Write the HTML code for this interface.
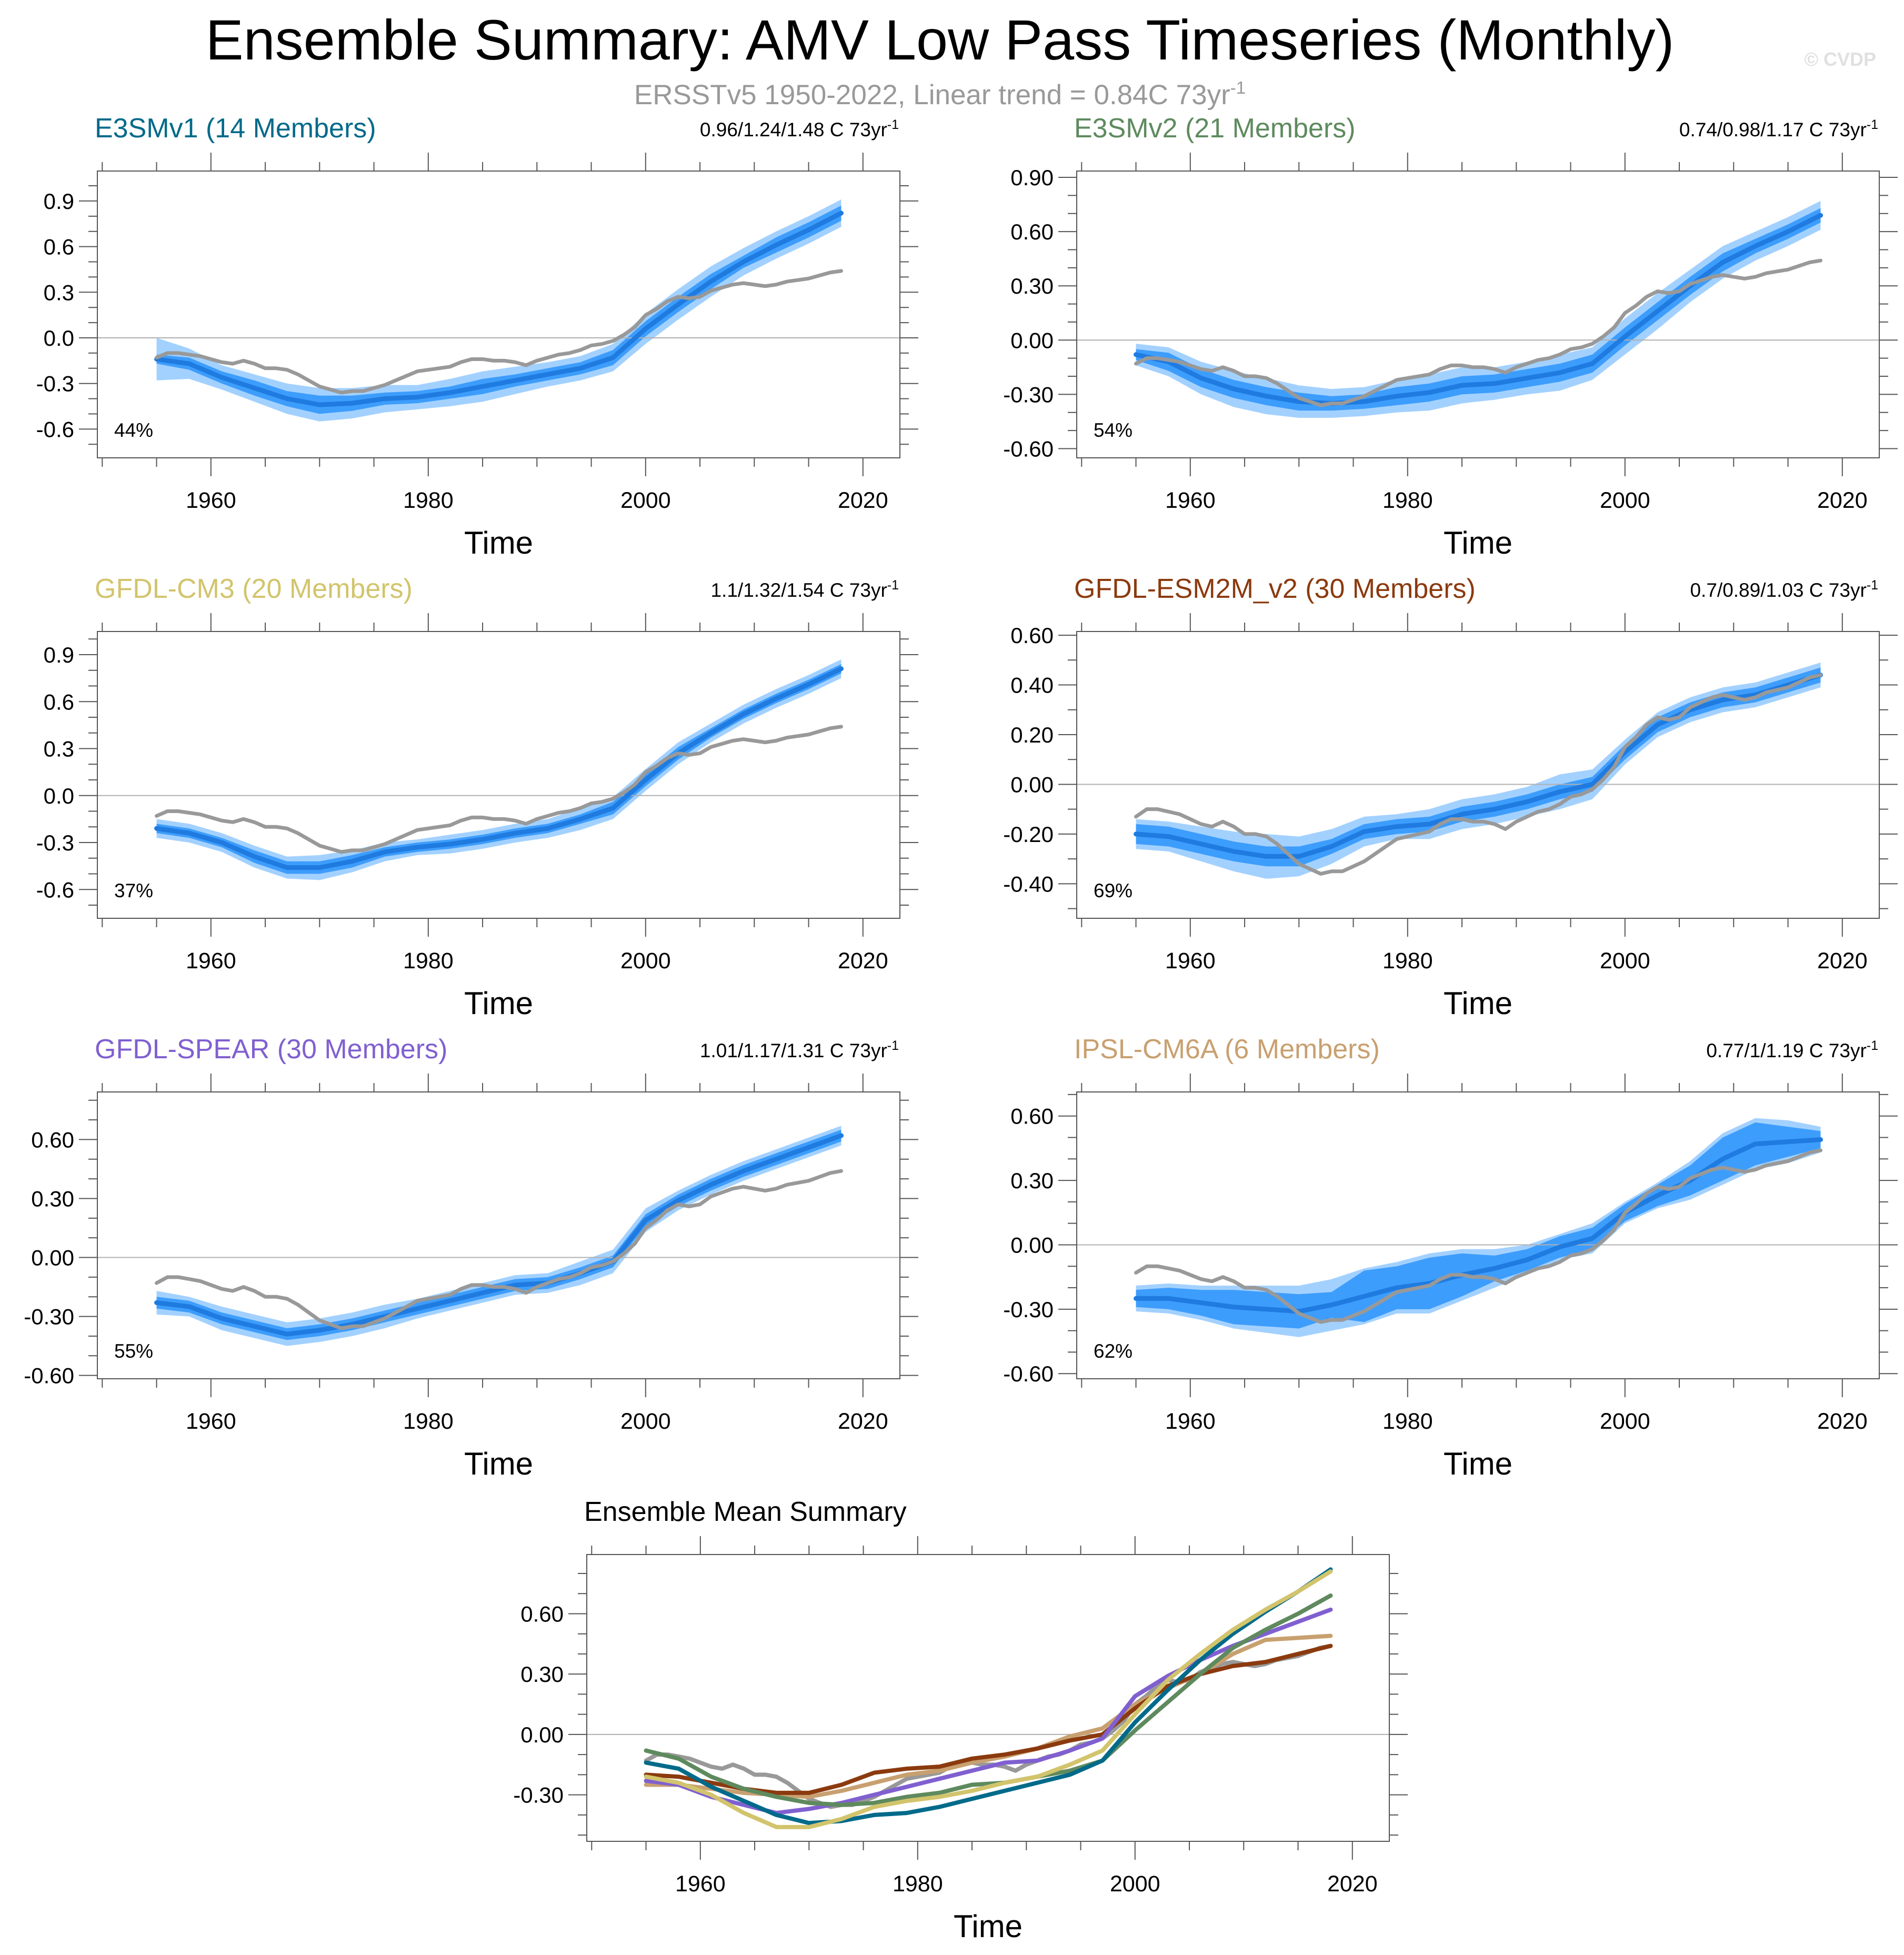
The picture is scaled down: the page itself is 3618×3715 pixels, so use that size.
<!DOCTYPE html>
<html><head><meta charset="utf-8"><style>
html,body{margin:0;padding:0;background:#fff;}
svg{display:block;font-family:"Liberation Sans",sans-serif;}
</style></head><body>
<svg id="c" width="3618" height="3715" viewBox="0 0 3618 3715" xmlns="http://www.w3.org/2000/svg">
<text x="1786" y="113" font-size="108" text-anchor="middle" fill="#000">Ensemble Summary: AMV Low Pass Timeseries (Monthly)</text>
<text x="1786" y="198" font-size="53" text-anchor="middle" fill="#999">ERSSTv5 1950-2022, Linear trend = 0.84C 73yr<tspan dy="-20" font-size="33">-1</tspan></text>
<text x="3565" y="125" font-size="36" font-weight="bold" text-anchor="end" fill="#e0e0e0">© CVDP</text>
</svg>
<script>
const years = [1955,1958,1961,1964,1967,1970,1973,1976,1979,1982,1985,1988,1991,1994,1997,2000,2003,2006,2009,2012,2015,2018];
const obsYears = [];
for (let y = 1955; y <= 2018; y++) obsYears.push(y);
const obs = [-0.13,-0.10,-0.10,-0.11,-0.12,-0.14,-0.16,-0.17,-0.15,-0.17,-0.20,-0.20,-0.21,-0.24,-0.28,-0.32,-0.34,-0.36,-0.35,-0.35,-0.33,-0.31,-0.28,-0.25,-0.22,-0.21,-0.20,-0.19,-0.16,-0.14,-0.14,-0.15,-0.15,-0.16,-0.18,-0.15,-0.13,-0.11,-0.10,-0.08,-0.05,-0.04,-0.02,0.02,0.07,0.15,0.19,0.24,0.27,0.26,0.27,0.31,0.33,0.35,0.36,0.35,0.34,0.35,0.37,0.38,0.39,0.41,0.43,0.44];

const e3v1Mean = [-0.14,-0.17,-0.26,-0.33,-0.40,-0.44,-0.43,-0.40,-0.39,-0.36,-0.32,-0.28,-0.24,-0.20,-0.13,0.06,0.22,0.37,0.50,0.61,0.71,0.82];
const e3v2Mean = [-0.08,-0.12,-0.21,-0.27,-0.31,-0.34,-0.35,-0.34,-0.31,-0.29,-0.25,-0.24,-0.21,-0.18,-0.13,0.02,0.16,0.30,0.43,0.52,0.60,0.69];
const cm3Mean = [-0.21,-0.24,-0.30,-0.39,-0.46,-0.46,-0.42,-0.36,-0.33,-0.31,-0.28,-0.24,-0.21,-0.15,-0.08,0.10,0.27,0.40,0.52,0.62,0.71,0.81];
const esm2mMean = [-0.20,-0.21,-0.24,-0.27,-0.29,-0.29,-0.25,-0.19,-0.17,-0.16,-0.12,-0.10,-0.07,-0.03,0.00,0.13,0.24,0.30,0.34,0.36,0.40,0.44];
const spearMean = [-0.23,-0.25,-0.31,-0.35,-0.39,-0.37,-0.34,-0.30,-0.26,-0.22,-0.18,-0.14,-0.13,-0.08,-0.02,0.19,0.29,0.37,0.44,0.50,0.56,0.62];
const ipslMean = [-0.25,-0.25,-0.27,-0.29,-0.30,-0.31,-0.28,-0.24,-0.20,-0.18,-0.14,-0.11,-0.07,-0.01,0.03,0.15,0.23,0.30,0.40,0.47,0.48,0.49];

const e3v1Inner = [0.03,0.04,0.04,0.05,0.05,0.06,0.05,0.04,0.04,0.04,0.05,0.04,0.04,0.04,0.05,0.05,0.05,0.05,0.04,0.05,0.05,0.05];
const e3v1Outer = [0.14,0.10,0.08,0.09,0.10,0.11,0.10,0.09,0.08,0.09,0.10,0.09,0.08,0.08,0.09,0.10,0.10,0.10,0.09,0.09,0.09,0.09];
const e3v2Inner = [0.03,0.05,0.05,0.05,0.05,0.05,0.04,0.04,0.05,0.05,0.05,0.05,0.05,0.05,0.05,0.05,0.05,0.05,0.05,0.04,0.04,0.04];
const e3v2Outer = [0.06,0.08,0.09,0.10,0.10,0.09,0.08,0.08,0.09,0.10,0.10,0.09,0.09,0.10,0.09,0.10,0.10,0.09,0.09,0.08,0.08,0.08];
const cm3Inner = [0.03,0.03,0.03,0.04,0.04,0.04,0.04,0.03,0.03,0.03,0.03,0.03,0.03,0.03,0.04,0.04,0.04,0.03,0.03,0.03,0.03,0.03];
const cm3Outer = [0.06,0.06,0.06,0.07,0.07,0.08,0.07,0.06,0.05,0.06,0.06,0.06,0.06,0.07,0.07,0.07,0.07,0.06,0.06,0.06,0.06,0.06];
const esm2mInner = [0.04,0.04,0.04,0.04,0.04,0.04,0.03,0.03,0.03,0.03,0.03,0.03,0.03,0.03,0.03,0.03,0.03,0.03,0.03,0.03,0.03,0.03];
const esm2mOuter = [0.06,0.06,0.07,0.08,0.09,0.08,0.07,0.06,0.05,0.06,0.06,0.06,0.06,0.07,0.06,0.05,0.05,0.05,0.05,0.05,0.05,0.05];
const spearInner = [0.03,0.03,0.03,0.03,0.03,0.03,0.03,0.03,0.03,0.03,0.03,0.03,0.03,0.03,0.03,0.03,0.03,0.03,0.03,0.03,0.03,0.03];
const spearOuter = [0.06,0.05,0.06,0.06,0.06,0.06,0.06,0.06,0.05,0.05,0.05,0.05,0.05,0.06,0.06,0.06,0.05,0.05,0.05,0.05,0.05,0.05];
const ipslInner = [0.04,0.05,0.06,0.08,0.08,0.08,0.06,0.12,0.10,0.12,0.10,0.06,0.05,0.05,0.05,0.04,0.05,0.07,0.10,0.10,0.07,0.04];
const ipslOuter = [0.06,0.07,0.08,0.10,0.11,0.12,0.12,0.13,0.12,0.14,0.12,0.09,0.07,0.06,0.07,0.05,0.06,0.09,0.12,0.12,0.10,0.06];

const NS = "http://www.w3.org/2000/svg";
const svg = document.getElementById('c');
const W = 1525, H = 545, XMIN = 1949.55, XMAX = 2023.4;
function mk(tag, attrs, parent) {
  const e = document.createElementNS(NS, tag);
  for (const k in attrs) e.setAttribute(k, attrs[k]);
  (parent || svg).appendChild(e);
  return e;
}
function panel(cfg) {
  const g = mk('g', {});
  
  
  const x0 = cfg.x, y0 = cfg.y;
  const sx = v => x0 + (v - XMIN) / (XMAX - XMIN) * W;
  const sy = v => y0 + (cfg.ymax - v) / (cfg.ymax - cfg.ymin) * H;
  if (cfg.mean && cfg.inner) {
    const band = (w, fill, nm) => {
      let d = '';
      years.forEach((yr, i) => { d += (i ? 'L' : 'M') + sx(yr) + ',' + sy(cfg.mean[i] + w[i]); });
      for (let i = years.length - 1; i >= 0; i--) d += 'L' + sx(years[i]) + ',' + sy(cfg.mean[i] - w[i]);
      const p = mk('path', {d: d + 'Z', fill: fill}, g);
      
      
    };
    band(cfg.outer, '#a3d1ff', 'outer-spread-band');
    band(cfg.inner, '#3d9dfc', 'inner-spread-band');
  }
  const zl = mk('line', {x1: x0, x2: x0 + W, y1: sy(0), y2: sy(0), stroke: '#b0b0b0', 'stroke-width': 2}, g);
  
  
  const line = (xs, vs, color, sw, nm) => {
    const p = mk('polyline', {points: xs.map((yr, i) => sx(yr) + ',' + sy(vs[i])).join(' '), fill: 'none', stroke: color, 'stroke-width': sw, 'stroke-linejoin': 'round', 'stroke-linecap': 'round'}, g);
    
    
  };
  if (cfg.summary) {
    line(obsYears, obs, '#999999', 8, 'observed-line');
    cfg.summary.forEach(s => line(years, s.v, s.c, 8, s.n));
  } else {
    line(years, cfg.mean, '#1f7be0', 9, 'ensemble-mean-line');
    line(obsYears, obs, '#999999', 7, 'observed-line');
  }
  const fr = mk('rect', {x: x0, y: y0, width: W, height: H, fill: 'none', stroke: '#555', 'stroke-width': 2}, g);
  
  
  for (let yr = 1950; yr <= 2020; yr += 5) {
    const major = yr % 20 === 0, L = major ? 35 : 17, X = sx(yr);
    mk('line', {x1: X, x2: X, y1: y0, y2: y0 - L, stroke: '#555', 'stroke-width': 2}, g);
    mk('line', {x1: X, x2: X, y1: y0 + H, y2: y0 + H + L, stroke: '#555', 'stroke-width': 2}, g);
    if (major && yr > 1950) {
      const t = mk('text', {x: X, y: y0 + H + 95, 'font-size': 43, 'text-anchor': 'middle'}, g);
      t.textContent = yr;
      
      
    }
  }
  const lo = Math.ceil(cfg.ymin * 10 - 1e-6), hi = Math.floor(cfg.ymax * 10 + 1e-6);
  for (let k = lo; k <= hi; k++) {
    const v = k / 10, major = Math.abs(k % cfg.mstep) === 0, L = major ? 35 : 17, Y = sy(v);
    mk('line', {x1: x0, x2: x0 - L, y1: Y, y2: Y, stroke: '#555', 'stroke-width': 2}, g);
    mk('line', {x1: x0 + W, x2: x0 + W + L, y1: Y, y2: Y, stroke: '#555', 'stroke-width': 2}, g);
    if (major) {
      const t = mk('text', {x: x0 - 44, y: Y + 15, 'font-size': 42, 'text-anchor': 'end'}, g);
      t.textContent = v.toFixed(cfg.dec);
      
      
    }
  }
  const tl = mk('text', {x: x0 + W / 2, y: y0 + H + 182, 'font-size': 60, 'text-anchor': 'middle'}, g);
  tl.textContent = 'Time';
  
  
  const tt = mk('text', {x: x0 - 5, y: y0 - 64, 'font-size': 52, fill: cfg.color}, g);
  tt.textContent = cfg.title;
  
  
  if (cfg.trend) {
    const tr = mk('text', {x: x0 + W - 2, y: y0 - 66, 'font-size': 37, 'text-anchor': 'end'}, g);
    tr.innerHTML = cfg.trend + ' C 73yr<tspan dy="-14" font-size="25">-1</tspan>';
    
    
    const pc = mk('text', {x: x0 + 32, y: y0 + H - 40, 'font-size': 37}, g);
    pc.textContent = cfg.pct;
    
    
  }
}
const LX = 185, RX = 2046, R1 = 325, R2 = 1200, R3 = 2075;
panel({name: 'panel-e3smv1', x: LX, y: R1, ymin: -0.789, ymax: 1.097, mstep: 3, dec: 1, mean: e3v1Mean, inner: e3v1Inner, outer: e3v1Outer, title: 'E3SMv1 (14 Members)', color: '#006a8a', trend: '0.96/1.24/1.48', pct: '44%'});
panel({name: 'panel-e3smv2', x: RX, y: R1, ymin: -0.651, ymax: 0.935, mstep: 3, dec: 2, mean: e3v2Mean, inner: e3v2Inner, outer: e3v2Outer, title: 'E3SMv2 (21 Members)', color: '#5e8a5e', trend: '0.74/0.98/1.17', pct: '54%'});
panel({name: 'panel-gfdl-cm3', x: LX, y: R2, ymin: -0.784, ymax: 1.048, mstep: 3, dec: 1, mean: cm3Mean, inner: cm3Inner, outer: cm3Outer, title: 'GFDL-CM3 (20 Members)', color: '#d2c46c', trend: '1.1/1.32/1.54', pct: '37%'});
panel({name: 'panel-gfdl-esm2m', x: RX, y: R2, ymin: -0.539, ymax: 0.615, mstep: 2, dec: 2, mean: esm2mMean, inner: esm2mInner, outer: esm2mOuter, title: 'GFDL-ESM2M_v2 (30 Members)', color: '#8b3a0e', trend: '0.7/0.89/1.03', pct: '69%'});
panel({name: 'panel-gfdl-spear', x: LX, y: R3, ymin: -0.617, ymax: 0.842, mstep: 3, dec: 2, mean: spearMean, inner: spearInner, outer: spearOuter, title: 'GFDL-SPEAR (30 Members)', color: '#8060d0', trend: '1.01/1.17/1.31', pct: '55%'});
panel({name: 'panel-ipsl-cm6a', x: RX, y: R3, ymin: -0.624, ymax: 0.712, mstep: 3, dec: 2, mean: ipslMean, inner: ipslInner, outer: ipslOuter, title: 'IPSL-CM6A (6 Members)', color: '#c8a070', trend: '0.77/1/1.19', pct: '62%'});
panel({name: 'panel-ensemble-mean-summary', x: 1115, y: 2954, ymin: -0.531, ymax: 0.894, mstep: 3, dec: 2, title: 'Ensemble Mean Summary', color: '#000',
  summary: [
    {v: ipslMean, c: '#c8a070', n: 'ipsl-mean-line'},
    {v: esm2mMean, c: '#8b3a0e', n: 'esm2m-mean-line'},
    {v: spearMean, c: '#8060d0', n: 'spear-mean-line'},
    {v: e3v2Mean, c: '#5e8a5e', n: 'e3smv2-mean-line'},
    {v: e3v1Mean, c: '#006a8a', n: 'e3smv1-mean-line'},
    {v: cm3Mean, c: '#d2c46c', n: 'cm3-mean-line'}
  ]});
</script>
</body></html>
